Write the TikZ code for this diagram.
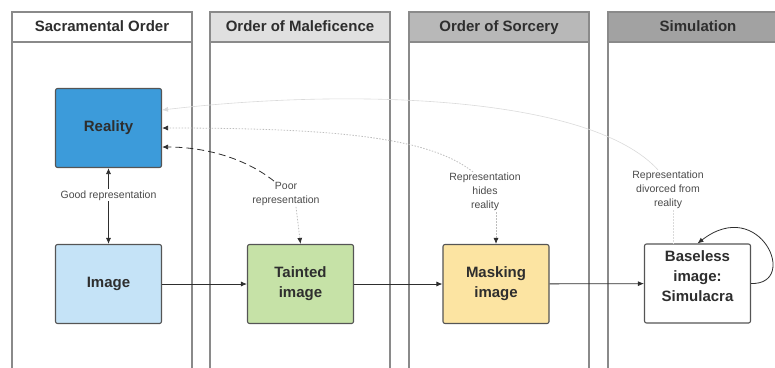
\documentclass[tikz,border=0pt]{standalone}
\usepackage{fontspec}
\setmainfont{Liberation Sans}
\usetikzlibrary{arrows.meta,calc,positioning}

\definecolor{lanegray}{HTML}{8A8A8A}
\definecolor{headlight}{HTML}{E0E0E0}
\definecolor{headmid}{HTML}{B8B8B8}
\definecolor{headdark}{HTML}{A2A2A2}
\definecolor{realblue}{HTML}{3C9BDA}
\definecolor{imgblue}{HTML}{C5E3F7}
\definecolor{taintgreen}{HTML}{C6E2A7}
\definecolor{maskyellow}{HTML}{FCE4A2}
\definecolor{boxline}{HTML}{555555}
\definecolor{textdark}{HTML}{2E2E2E}
\definecolor{lblgray}{HTML}{4A4A4A}
\definecolor{faintgray}{HTML}{BDBDBD}
\definecolor{palegray}{HTML}{DADADA}

\begin{document}
\begin{tikzpicture}[x=1pt,y=-1pt,
  lane/.style={draw=lanegray,line width=1.5pt},
  lanehead/.style={draw=lanegray,line width=1.5pt,minimum width=180pt,minimum height=30pt,
    text height=11pt,text depth=3pt,font=\fontsize{15}{18}\selectfont\bfseries,text=textdark},
  box/.style={draw=boxline,line width=1.1pt,rounded corners=2pt,minimum width=106pt,
    minimum height=79pt,align=center,text=textdark,font=\fontsize{15}{20}\selectfont\bfseries},
  lbl/.style={font=\fontsize{10.5}{14}\selectfont,text=lblgray,align=center,inner sep=1pt},
  arr/.style={draw=textdark,line width=0.8pt,-{Latex[length=6pt,width=5pt,color=textdark]}}]
  \useasboundingbox (0,0) rectangle (775,367);
  \clip (0,0) rectangle (775,367);
  % swimlanes
  \foreach \i/\x/\name/\col in {1/12/Sacramental Order/white,2/210/Order of Maleficence/headlight,
    3/409/Order of Sorcery/headmid,4/608/Simulation/headdark}{
    \draw[lane] (\x,42) rectangle (\x+180,380);
    \node[lanehead,fill=\col] (head\i) at (\x+90,27) {\name};
  }
  % boxes
  \node[box,fill=realblue] (reality) at (108.5,128) {Reality};
  \node[box,fill=imgblue] (image) at (108.5,284) {Image};
  \node[box,fill=taintgreen] (tainted) at (300.5,284) {Tainted\\image};
  \node[box,fill=maskyellow] (masking) at (496,284) {Masking\\image};
  \node[box,fill=white,text depth=14pt] (baseless) at (697.5,283.5) {Baseless\\image:\\Simulacra};
  % labels
  \node[lbl] (poor) at (286,194) {Poor\\representation};
  \node[lbl] (hides) at (485,192) {Representation\\hides\\reality};
  \node[lbl] (divorced) at (668,190) {Representation\\divorced from\\reality};
  % chain of images
  \draw[arr,{Latex[length=6pt,width=5pt]}-{Latex[length=6pt,width=5pt]}] (reality) --
    node[lbl,fill=white,pos=0.36]{Good representation} (image);
  \draw[arr] (image) -- (tainted);
  \draw[arr] (tainted) -- (masking);
  \draw[arr] (masking) -- (baseless);
  % links back to reality
  \draw[arr,dash pattern=on 7pt off 4pt] ([xshift=-12pt]poor.north)
    .. controls (245,158) and (205,147) .. ([yshift=-19pt]reality.east);
  \draw[arr,draw=faintgray,dash pattern=on 1.5pt off 1.5pt] ([xshift=10pt]poor.south) -- (tainted.north);
  \draw[arr,draw=faintgray,dash pattern=on 1.5pt off 1.5pt] ([xshift=-12pt]hides.north)
    .. controls (430,138) and (340,128) .. (reality.east);
  \draw[arr,draw=faintgray,dash pattern=on 1.5pt off 1.5pt] (hides.south -| masking.north) -- (masking.north);
  \draw[arr,draw=palegray,line width=0.6pt,-{Latex[length=6pt,width=5pt,color=palegray]}] ([xshift=-10pt]divorced.north)
    .. controls (590,95) and (350,88) .. ([yshift=18pt]reality.east);
  \draw[draw=palegray,line width=0.8pt,dash pattern=on 1.5pt off 1.5pt] (divorced.south -| 673,0) -- (baseless.north -| 673,0);
  % self loop
  \draw[arr] (baseless.east) .. controls (800,285) and (760,195) .. (baseless.north);
\end{tikzpicture}
\end{document}
